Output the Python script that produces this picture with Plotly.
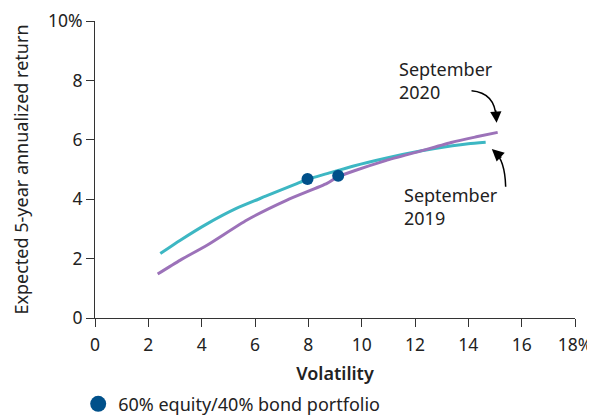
import plotly.graph_objects as go

# Efficient frontier, September 2019 (teal)
sep2019_vol = [2.45, 3.2, 4.2, 5.3, 6.4, 7.5, 8.0, 8.7, 9.7, 10.9, 12.2, 13.4, 14.0, 14.65]
sep2019_ret = [2.17, 2.62, 3.17, 3.69, 4.1, 4.5, 4.68, 4.86, 5.12, 5.38, 5.62, 5.8, 5.87, 5.92]

# Efficient frontier, September 2020 (purple)
sep2020_vol = [2.35, 3.2, 4.2, 5.7, 7.2, 8.7, 9.1, 9.7, 10.9, 12.2, 13.4, 14.3, 15.1]
sep2020_ret = [1.48, 1.95, 2.45, 3.3, 3.97, 4.53, 4.75, 4.95, 5.3, 5.62, 5.92, 6.1, 6.25]

# 60/40 portfolio points (2019, 2020)
port_vol = [7.97, 9.12]
port_ret = [4.68, 4.79]

x_ticks = [0, 2, 4, 6, 8, 10, 12, 14, 16, 18]
x_ticktext = ["0", "2", "4", "6", "8", "10", "12", "14", "16", "18%"]
y_ticks = [0, 2, 4, 6, 8, 10]
y_ticktext = ["0", "2", "4", "6", "8", "10%"]

TEAL = "#3DB7C3"
PURPLE = "#9C72B9"
NAVY = "#00508A"
TXT = "#222222"
FONT = "Noto Sans"

fig = go.Figure()
fig.add_trace(go.Scatter(x=sep2019_vol, y=sep2019_ret, mode="lines",
                         line=dict(color=TEAL, width=3, shape="spline", smoothing=0.6),
                         showlegend=False, hoverinfo="skip"))
fig.add_trace(go.Scatter(x=sep2020_vol, y=sep2020_ret, mode="lines",
                         line=dict(color=PURPLE, width=3, shape="spline", smoothing=0.6),
                         showlegend=False, hoverinfo="skip"))
fig.add_trace(go.Scatter(x=port_vol, y=port_ret, mode="markers",
                         marker=dict(color=NAVY, size=12),
                         showlegend=False))
fig.add_trace(go.Scatter(x=[None], y=[None], mode="markers",
                         marker=dict(color=NAVY, size=16),
                         name="60% equity/40% bond portfolio", showlegend=True))

# curved arrows
fig.add_shape(type="path", xref="x", yref="y",
              path="M 14.12,7.65 Q 15.0,7.58 15.04,6.75",
              line=dict(color="black", width=1.5))
fig.add_shape(type="path", xref="x", yref="y",
              path="M 15.4,4.42 Q 15.37,5.32 14.98,5.6",
              line=dict(color="black", width=1.5))
fig.add_annotation(x=15.06, y=6.57, ax=-1, ay=-14, xref="x", yref="y",
                   showarrow=True, arrowhead=2, arrowsize=1.5, arrowwidth=1.5,
                   arrowcolor="black", text="")
fig.add_annotation(x=14.88, y=5.69, ax=11, ay=10, xref="x", yref="y",
                   showarrow=True, arrowhead=2, arrowsize=1.6, arrowwidth=1.5,
                   arrowcolor="black", text="")

fig.add_annotation(x=11.32, y=8.85, xref="x", yref="y", xanchor="left", yanchor="top",
                   text="September<br>2020", showarrow=False, align="left",
                   font=dict(family=FONT, size=18, color=TXT))
fig.add_annotation(x=11.51, y=4.6, xref="x", yref="y", xanchor="left", yanchor="top",
                   text="September<br>2019", showarrow=False, align="left",
                   font=dict(family=FONT, size=18, color=TXT))

# page body has an 8px margin; figure sized so the plot sits where the reference has it
fig.update_layout(
    width=587, height=408,
    margin=dict(l=87, r=20, t=13, b=98, autoexpand=False),
    paper_bgcolor="white", plot_bgcolor="white",
    font=dict(family=FONT, size=17, color=TXT),
    legend=dict(orientation="h", x=-0.035, xanchor="left", y=-0.29, yanchor="middle",
                font=dict(family=FONT, size=18, color=TXT), bgcolor="rgba(0,0,0,0)"),
)
fig.update_xaxes(range=[0, 18], tickvals=x_ticks, ticktext=x_ticktext, automargin=False,
                 tickfont=dict(family=FONT, size=17.5, color=TXT), ticklabelstandoff=3,
                 showgrid=False, zeroline=False, showline=True, linecolor="#333",
                 linewidth=1, ticks="outside", ticklen=8, tickcolor="#333",
                 title=dict(text="Volatility", standoff=12,
                            font=dict(family=FONT, size=18, color=TXT, weight=600)))
fig.update_yaxes(range=[0, 10], tickvals=y_ticks, ticktext=y_ticktext, automargin=False,
                 tickfont=dict(family=FONT, size=17.5, color=TXT),
                 showgrid=False, zeroline=False, showline=True, linecolor="#333",
                 linewidth=1, ticks="outside", ticklen=8, tickcolor="#333",
                 title=dict(text="Expected 5-year annualized return", standoff=14,
                            font=dict(family=FONT, size=18, color=TXT)))

fig.write_html("out.html")
